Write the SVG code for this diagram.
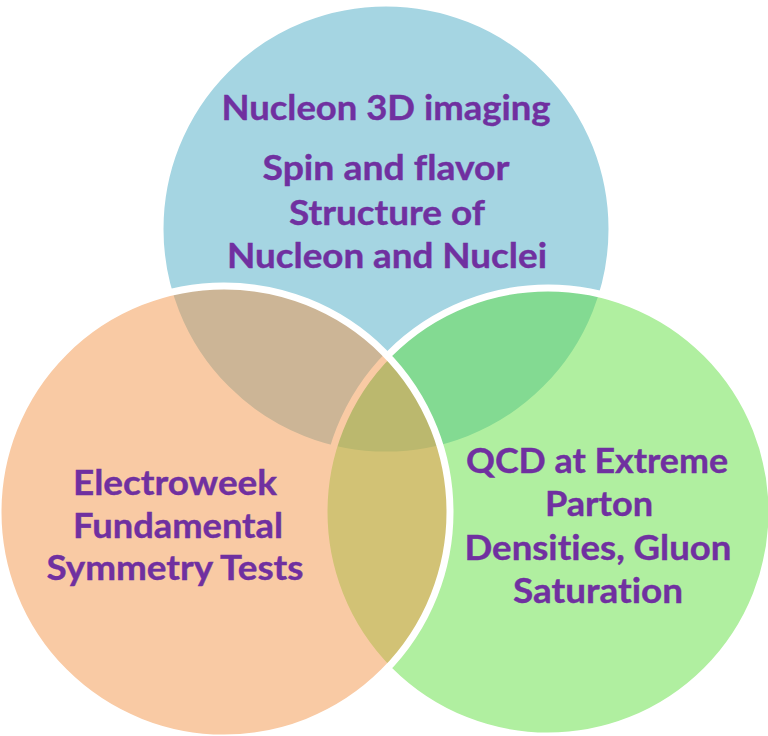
<svg xmlns="http://www.w3.org/2000/svg" width="768" height="736" viewBox="0 0 768 736">
  <style>
    .ring { stroke: #FFFFFF; stroke-width: 7; fill-opacity: 0.5; }
    .label { font-family: Lato, "Liberation Sans", sans-serif; font-weight: 700; font-size: 35px; fill: #7030A0; text-anchor: middle; font-variant-ligatures: none; font-feature-settings: "liga" 0; stroke: #7030A0; stroke-width: 0.4; }
  </style>
  <rect width="768" height="736" fill="#FFFFFF"/>

  <!-- Top set -->
  <g id="nucleon-imaging">
    <circle class="ring" cx="386" cy="229" r="226" fill="#4BACC6"/>
    <text class="label" x="386" y="120" textLength="329" lengthAdjust="spacingAndGlyphs">Nucleon 3D imaging</text>
    <text class="label" x="386" y="180" textLength="247" lengthAdjust="spacingAndGlyphs">Spin and flavor</text>
    <text class="label" x="387" y="225" textLength="196" lengthAdjust="spacingAndGlyphs">Structure of</text>
    <text class="label" x="387" y="268" textLength="320" lengthAdjust="spacingAndGlyphs">Nucleon and Nuclei</text>
  </g>

  <!-- Right set -->
  <g id="qcd-saturation">
    <circle class="ring" cx="548" cy="512" r="224" fill="#61DF41"/>
    <text class="label" x="597" y="473" textLength="262" lengthAdjust="spacingAndGlyphs">QCD at Extreme</text>
    <text class="label" x="599" y="516" textLength="108" lengthAdjust="spacingAndGlyphs">Parton</text>
    <text class="label" x="598" y="560" textLength="267" lengthAdjust="spacingAndGlyphs">Densities, Gluon</text>
    <text class="label" x="598" y="603" textLength="170" lengthAdjust="spacingAndGlyphs">Saturation</text>
  </g>

  <!-- Left set -->
  <g id="electroweek">
    <circle class="ring" cx="224" cy="512" r="226" fill="#F39549"/>
    <text class="label" x="175" y="495" textLength="204" lengthAdjust="spacingAndGlyphs">Electroweek</text>
    <text class="label" x="178" y="538" textLength="210" lengthAdjust="spacingAndGlyphs">Fundamental</text>
    <text class="label" x="175" y="580" textLength="257" lengthAdjust="spacingAndGlyphs">Symmetry Tests</text>
  </g>
</svg>
